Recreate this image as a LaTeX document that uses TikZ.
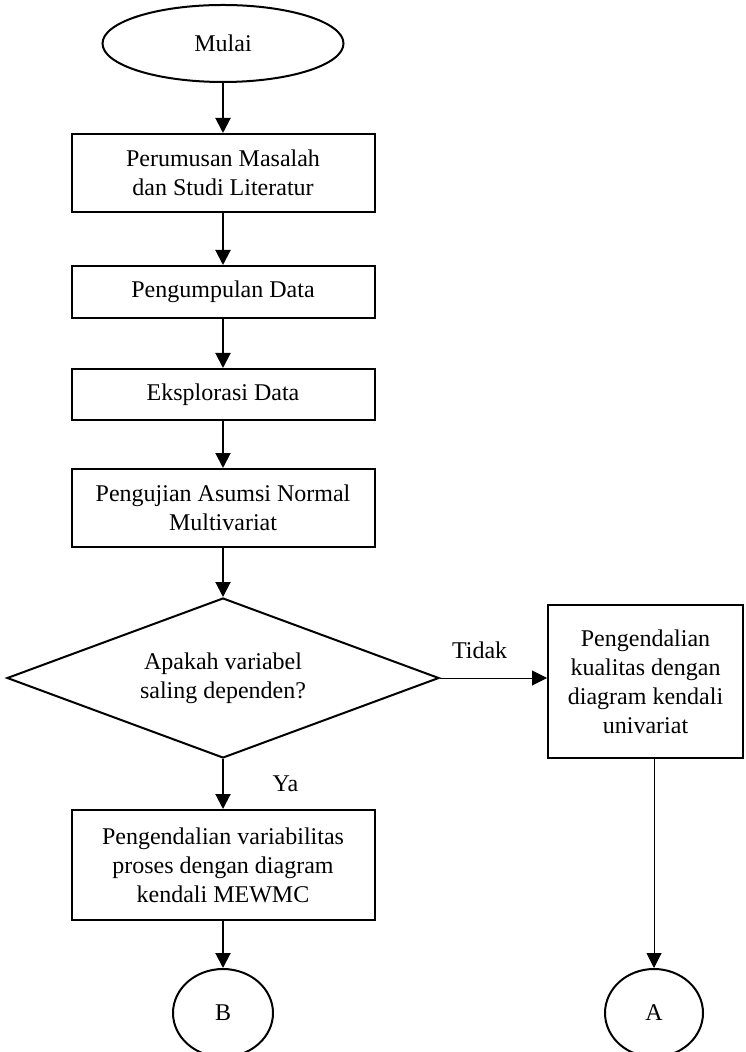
\documentclass[tikz,border=0pt]{standalone}
\usepackage{fontspec}
\setmainfont{Liberation Serif}
\usetikzlibrary{shapes.geometric,arrows.meta}

\begin{document}
\begin{tikzpicture}[x=0.5pt,y=-0.5pt,
  every node/.style={font=\fontsize{12}{14.5}\selectfont},
  box/.style={draw,line width=1pt,align=center,inner sep=0pt,
    minimum width=151.5pt},
  oval/.style={draw,ellipse,line width=1pt,inner sep=0pt},
  arr/.style={-{Triangle[width=7.5pt,length=7.5pt]},line width=1pt},
  thinarr/.style={-{Triangle[width=7.5pt,length=7.5pt]},line width=0.5pt}]
\useasboundingbox (0,0) rectangle (745,1052);
\node[oval,minimum width=120.5pt,minimum height=38.5pt] (mulai)
  at (223,43.5) {Mulai};
\node[box,minimum height=39pt] (rumus) at (223,173)
  {Perumusan Masalah\\dan Studi Literatur};
\node[box,minimum height=26pt] (kumpul) at (223,292) {Pengumpulan Data};
\node[box,minimum height=25.5pt] (eksplor) at (223,394.5) {Eksplorasi Data};
\node[box,minimum height=39pt] (uji) at (223,508)
  {Pengujian Asumsi Normal\\Multivariat};
\node[draw,diamond,shape aspect=2.7,line width=1pt,align=center,
  inner sep=0pt,minimum width=216pt,minimum height=80pt] (cek)
  at (223,678) {Apakah variabel\\saling dependen?};
\node[box,minimum height=55pt] (mewmc) at (223,865)
  {Pengendalian variabilitas\\proses dengan diagram\\kendali MEWMC};
\node[box,minimum width=97.5pt,minimum height=76.5pt] (univ) at (645.5,681.5)
  {Pengendalian\\kualitas dengan\\diagram kendali\\univariat};
\node[oval,minimum width=50pt,minimum height=44pt] (B) at (223,1013) {B};
\node[oval,minimum width=49pt,minimum height=44pt] (A) at (654,1013) {A};
% alur utama
\draw[arr] (mulai) -- (rumus);
\draw[arr] (rumus) -- (kumpul);
\draw[arr] (kumpul) -- (eksplor);
\draw[arr] (eksplor) -- (uji);
\draw[arr] (uji) -- (cek);
\draw[arr] (cek) -- node[right=21pt] {Ya} (mewmc);
\draw[arr] (mewmc) -- (B);
% cabang tidak
\draw[thinarr] (cek.east) -- node[pos=0.37,above=6pt] {Tidak}
  (cek.east -| univ.west);
\draw[thinarr] (univ.south -| A.north) -- (A.north);
\end{tikzpicture}
\end{document}
